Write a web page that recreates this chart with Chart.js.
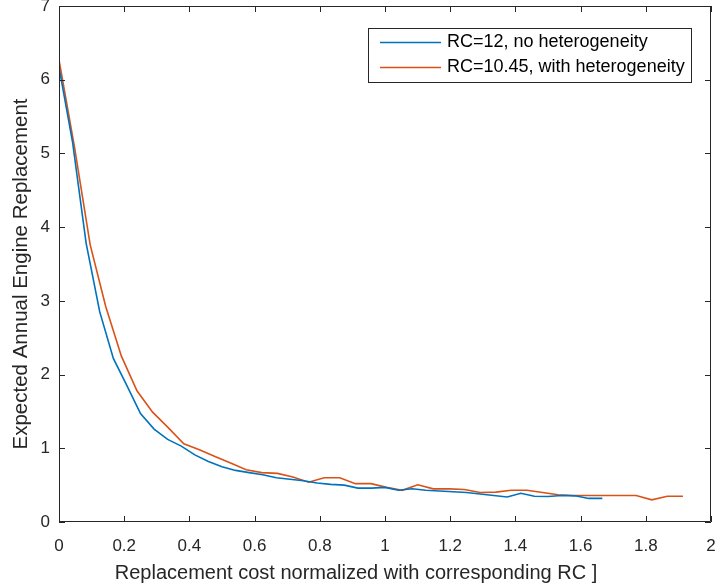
<!DOCTYPE html>
<html>
<head>
<meta charset="utf-8">
<script src="https://cdn.jsdelivr.net/npm/chart.js@4/dist/chart.umd.min.js"></script>
<style>
  html, body { margin: 0; padding: 0; background: #fff; }
  #wrap { width: 715px; height: 587px; position: relative; }
</style>
</head>
<body>
<div id="wrap"><canvas id="c" width="715" height="587"></canvas></div>
<script>
// ---- data ----
const xBlue = [0, 0.0417, 0.0833, 0.125, 0.1667, 0.2083, 0.25, 0.2917, 0.3333, 0.375, 0.4167,
  0.4583, 0.5, 0.5417, 0.5833, 0.625, 0.6667, 0.7083, 0.75, 0.7917, 0.8333, 0.875, 0.9167,
  0.9583, 1.0, 1.0417, 1.0833, 1.125, 1.1667, 1.2083, 1.25, 1.2917, 1.3333, 1.375, 1.4167,
  1.4583, 1.5, 1.5417, 1.5833, 1.625, 1.6667];
const yBlue = [6.17, 5.15, 3.78, 2.85, 2.22, 1.85, 1.47, 1.26, 1.12, 1.03, 0.91,
  0.82, 0.75, 0.70, 0.67, 0.64, 0.60, 0.58, 0.56, 0.53, 0.51, 0.50, 0.46,
  0.46, 0.47, 0.43, 0.45, 0.43, 0.42, 0.41, 0.40, 0.38, 0.36, 0.34, 0.39,
  0.35, 0.345, 0.36, 0.355, 0.32, 0.32];
const xOrange = [0, 0.0478, 0.0957, 0.1435, 0.1914, 0.2392, 0.2871, 0.3349, 0.3828, 0.4306,
  0.4785, 0.5263, 0.5742, 0.6220, 0.6699, 0.7177, 0.7656, 0.8134, 0.8612, 0.9091, 0.9569,
  1.0048, 1.0526, 1.1005, 1.1483, 1.1962, 1.2440, 1.2919, 1.3397, 1.3876, 1.4354, 1.4833,
  1.5311, 1.5789, 1.6268, 1.6746, 1.7225, 1.7703, 1.8182, 1.8660, 1.9139];
const yOrange = [6.27, 5.08, 3.76, 2.92, 2.25, 1.78, 1.49, 1.28, 1.06, 0.98,
  0.89, 0.80, 0.71, 0.67, 0.66, 0.61, 0.54, 0.60, 0.60, 0.52, 0.52,
  0.47, 0.43, 0.505, 0.45, 0.45, 0.44, 0.40, 0.405, 0.43, 0.43, 0.40,
  0.37, 0.36, 0.36, 0.36, 0.36, 0.36, 0.30, 0.35, 0.35];
const seriesNames = ['RC=12, no heterogeneity', 'RC=10.45, with heterogeneity'];
const xTicks = [0, 0.2, 0.4, 0.6, 0.8, 1, 1.2, 1.4, 1.6, 1.8, 2];
const yTicks = [0, 1, 2, 3, 4, 5, 6, 7];
const xTitle = 'Replacement cost normalized with corresponding RC ]';
const yTitle = 'Expected Annual Engine Replacement';

const FONT = "'Liberation Sans', Arial, Helvetica, sans-serif";
const AXIS = '#262626';

const toPts = (xs, ys) => xs.map((x, i) => ({ x: x, y: ys[i] }));

// Frame + inward ticks on all four sides (MATLAB style)
const framePlugin = {
  id: 'frame',
  afterDatasetsDraw(chart) {
    const { ctx, chartArea: a, scales } = chart;
    ctx.save();
    ctx.strokeStyle = AXIS;
    ctx.lineWidth = 1;
    ctx.beginPath();
    ctx.rect(a.left + 0.5, a.top + 0.5, a.right - a.left - 1, a.bottom - a.top - 1);
    ctx.stroke();
    const L = 6;
    ctx.beginPath();
    xTicks.forEach(v => {
      const px = Math.round(scales.x.getPixelForValue(v)) + 0.5;
      ctx.moveTo(px, a.bottom); ctx.lineTo(px, a.bottom - L);
      ctx.moveTo(px, a.top); ctx.lineTo(px, a.top + L);
    });
    yTicks.forEach(v => {
      const py = Math.round(scales.y.getPixelForValue(v)) + 0.5;
      ctx.moveTo(a.left, py); ctx.lineTo(a.left + L, py);
      ctx.moveTo(a.right, py); ctx.lineTo(a.right - L, py);
    });
    ctx.stroke();
    ctx.restore();
  }
};

// Axis titles, placed as in the reference (x title sits left of centre)
const titlesPlugin = {
  id: 'titles',
  afterDraw(chart) {
    const { ctx } = chart;
    ctx.save();
    ctx.fillStyle = AXIS;
    ctx.font = '20px ' + FONT;
    ctx.textAlign = 'center';
    ctx.textBaseline = 'middle';
    ctx.fillText(xTitle, 356, 573);
    ctx.translate(21, 274);
    ctx.rotate(-Math.PI / 2);
    ctx.font = '20.5px ' + FONT;
    ctx.fillText(yTitle, 0, 0);
    ctx.restore();
  }
};

new Chart(document.getElementById('c'), {
  type: 'line',
  data: {
    datasets: [
      { label: seriesNames[0], data: toPts(xBlue, yBlue), borderColor: '#0072BD',
        backgroundColor: '#0072BD', borderWidth: 1.6, pointRadius: 0, tension: 0, fill: false },
      { label: seriesNames[1], data: toPts(xOrange, yOrange), borderColor: '#D95319',
        backgroundColor: '#D95319', borderWidth: 1.6, pointRadius: 0, tension: 0, fill: false }
    ]
  },
  options: {
    responsive: false,
    animation: false,
    layout: { padding: { top: 6, right: 4, left: 0, bottom: 0 } },
    plugins: {
      legend: { display: false },
      tooltip: { enabled: false }
    },
    scales: {
      x: {
        type: 'linear', min: 0, max: 2,
        afterBuildTicks: s => { s.ticks = xTicks.map(v => ({ value: v })); },
        afterFit: s => { s.height = 65; s.paddingLeft = 0; s.paddingRight = 0; },
        grid: { display: false, drawTicks: false },
        border: { display: false },
        ticks: { color: AXIS, font: { family: FONT, size: 17 }, padding: 14, maxRotation: 0,
                 callback: v => String(v) },
        title: { display: false, text: xTitle }
      },
      y: {
        type: 'linear', min: 0, max: 7,
        afterBuildTicks: s => { s.ticks = yTicks.map(v => ({ value: v })); },
        afterFit: s => { s.width = 59; s.paddingTop = 0; s.paddingBottom = 0; },
        grid: { display: false, drawTicks: false },
        border: { display: false },
        ticks: { color: AXIS, font: { family: FONT, size: 17 }, padding: 9,
                 callback: v => String(v) },
        title: { display: false, text: yTitle }
      }
    }
  },
  plugins: [framePlugin, titlesPlugin, {
    id: 'legendBox',
    afterDraw(chart) {
      const { ctx } = chart;
      const ds = chart.data.datasets;
      ctx.save();
      const bx = 368.5, by = 28.5, bw = 323, bh = 54;
      ctx.fillStyle = '#fff';
      ctx.fillRect(bx, by, bw, bh);
      ctx.strokeStyle = AXIS; ctx.lineWidth = 1;
      ctx.strokeRect(bx, by, bw, bh);
      ctx.font = '18px ' + FONT;
      ctx.textBaseline = 'middle';
      ds.forEach((d, i) => {
        const yy = by + 14 + i * 25;
        ctx.strokeStyle = d.borderColor; ctx.lineWidth = 1.6;
        ctx.beginPath(); ctx.moveTo(380, yy); ctx.lineTo(441, yy); ctx.stroke();
        ctx.fillStyle = '#000';
        ctx.fillText(d.label, 447, yy);
      });
      ctx.restore();
    }
  }]
});
</script>
</body>
</html>
